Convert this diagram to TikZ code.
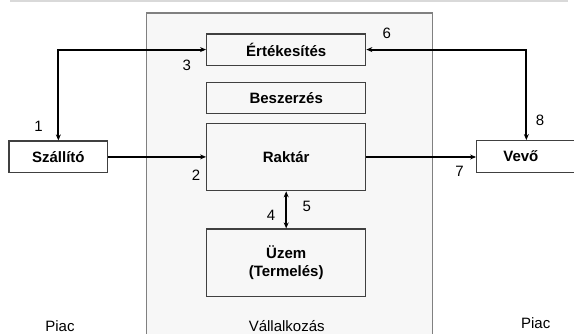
\documentclass[tikz,border=0pt]{standalone}
\usepackage{fontspec}
\setmainfont{Liberation Sans}
\usetikzlibrary{arrows.meta}
\definecolor{panel}{HTML}{F7F7F7}
\definecolor{boxgrey}{HTML}{404040}
\definecolor{outergrey}{HTML}{808080}
\definecolor{topgrey}{HTML}{D9D9D9}
\begin{document}
\begin{tikzpicture}[x=1pt,y=-1pt,
  font=\fontsize{15}{17.6}\selectfont,
  outerbox/.style={draw=outergrey,line width=1.3pt,fill=panel,inner sep=0pt},
  inbox/.style={draw=boxgrey,line width=1.3pt,fill=panel,minimum width=159pt,inner sep=0pt,
    font=\fontsize{15}{17.6}\selectfont\bfseries,align=center},
  sidebox/.style={draw=boxgrey,line width=1.3pt,fill=white,inner sep=0pt,
    font=\fontsize{15}{17.6}\selectfont\bfseries},
  conn/.style={draw=black,line width=2pt},
  tip/.tip={Stealth[length=6pt,width=5pt]},
  lbl/.style={inner sep=0pt},
  topline/.style={draw=topgrey,line width=2pt}
]
\useasboundingbox (0,0) rectangle (574,334);
\fill[white] (0,0) rectangle (574,334);
\draw[topline] (10,1.5) -- (568,1.5);

\node[outerbox,minimum width=286pt,minimum height=327pt] (firm) at (289.7,176.4) {};

\node[inbox,minimum height=31.3pt] (ertek) at (286.2,49.6) {Értékesítés};
\node[inbox,minimum height=31pt] (beszer) at (286.2,97.8) {Beszerzés};
\node[inbox,minimum height=67.4pt] (raktar) at (286.2,157) {Raktár};
\node[inbox,minimum height=67.3pt] (uzem) at (286.2,262.7) {Üzem\\(Termelés)};

\node[sidebox,minimum width=98.7pt,minimum height=31.7pt] (szallito) at (58.35,156.9) {Szállító};
\node[sidebox,minimum width=99.3pt,minimum height=31.6pt,text width=97pt,align=left] (vevo) at (526.35,156.5) {\hspace{25.5pt}Vevő};

\draw[conn,tip-tip] (szallito.north) |- (ertek.west);
\draw[conn,tip-tip] (vevo.north) |- (ertek.east);
\draw[conn,-tip] (szallito.east) -- (szallito.east -| raktar.west);
\draw[conn,-tip] (raktar.east) -- (raktar.east -| vevo.west);
\draw[conn,tip-tip] (raktar.south) -- (uzem.north);

\node[lbl] (n1) at (38.5,126.7) {1};
\node[lbl] (n2) at (196,175.7) {2};
\node[lbl] (n3) at (186.7,65.7) {3};
\node[lbl] (n4) at (271,215) {4};
\node[lbl] (n5) at (306.7,206) {5};
\node[lbl] (n6) at (386.7,33.3) {6};
\node[lbl] (n7) at (459.5,171) {7};
\node[lbl] (n8) at (540,120) {8};

\node[lbl,anchor=base] (piacl) at (60,331.5) {Piac};
\node[lbl,anchor=base] (firmlbl) at (286.7,331) {Vállalkozás};
\node[lbl,anchor=base] (piacr) at (535.7,328.5) {Piac};
\end{tikzpicture}
\end{document}
